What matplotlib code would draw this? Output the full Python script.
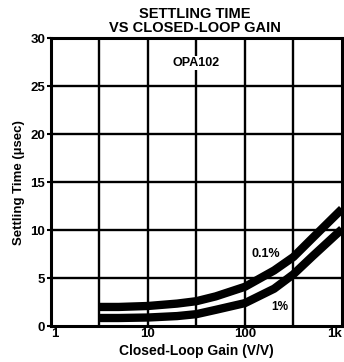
import matplotlib.pyplot as plt
import numpy as np

plt.rcParams['font.family'] = ['Liberation Sans', 'DejaVu Sans']
plt.rcParams['font.weight'] = 'bold'

# values
gain = [3.16, 5, 10, 20, 31.6, 50, 100, 200, 316, 500, 1000]
t_01 = [2.0, 2.0, 2.1, 2.35, 2.6, 3.1, 4.1, 5.8, 7.2, 9.2, 12.2]
t_1 = [0.85, 0.85, 0.9, 1.05, 1.25, 1.7, 2.4, 3.9, 5.4, 7.3, 10.1]

x_ticks = [1, 10, 100, 1000]
x_labels = ["1", "10", "100", "1k"]
y_ticks = [0, 5, 10, 15, 20, 25, 30]

fig = plt.figure(figsize=(3.44, 3.62), dpi=100)
ax = fig.add_axes([0.148, 0.099, 0.846, 0.796])

ax.set_xscale("log")
ax.set_xlim(1, 1000)
ax.set_ylim(0, 30)

# grid at half decades and every 5 usec
for gx in 10 ** np.arange(0.5, 3.0, 0.5):
    ax.axvline(gx, color="black", lw=1.7, zorder=1)
for gy in y_ticks[1:-1]:
    ax.axhline(gy, color="black", lw=1.7, zorder=1)

ax.plot(gain, t_01, color="black", lw=6, solid_capstyle="butt", zorder=3)
ax.plot(gain, t_1, color="black", lw=6, solid_capstyle="butt", zorder=3)

ax.set_xticks(x_ticks)
ax.set_xticklabels(x_labels)
ax.xaxis.set_minor_locator(plt.NullLocator())
ax.set_yticks(y_ticks)
ax.tick_params(axis="x", length=0, pad=1, labelsize=9.5)
ax.tick_params(axis="y", length=3, width=1.5, pad=1, labelsize=9.5)
for lab in ax.get_xticklabels() + ax.get_yticklabels():
    lab.set_fontweight("bold")
ax.get_xticklabels()[-1].set_horizontalalignment("right")
ax.get_xticklabels()[0].set_horizontalalignment("left")

for s in ax.spines.values():
    s.set_linewidth(2.2)

bbox = dict(facecolor="white", edgecolor="none", pad=1)
ax.text(31.6, 27.4, "OPA102", ha="center", va="center", fontsize=9,
        fontweight="bold", bbox=bbox, zorder=2)
ax.text(165, 7.5, "0.1%", ha="center", va="center", fontsize=9,
        fontweight="bold", bbox=bbox, zorder=2)
ax.text(229, 2.0, "1%", ha="center", va="center", fontsize=8.5,
        fontweight="bold", bbox=bbox, zorder=2)

ax.set_xlabel("Closed-Loop Gain (V/V)", fontsize=10, fontweight="bold", labelpad=3)
ax.set_ylabel("Settling Time (\u00b5sec)", fontsize=9.5, fontweight="bold", labelpad=4)

fig.text(0.567, 0.962, "SETTLING TIME", ha="center", va="center",
         fontsize=10.5, fontweight="bold")
fig.text(0.567, 0.924, "VS CLOSED-LOOP GAIN", ha="center", va="center",
         fontsize=10.5, fontweight="bold")

fig.savefig("out.png", dpi=100)
